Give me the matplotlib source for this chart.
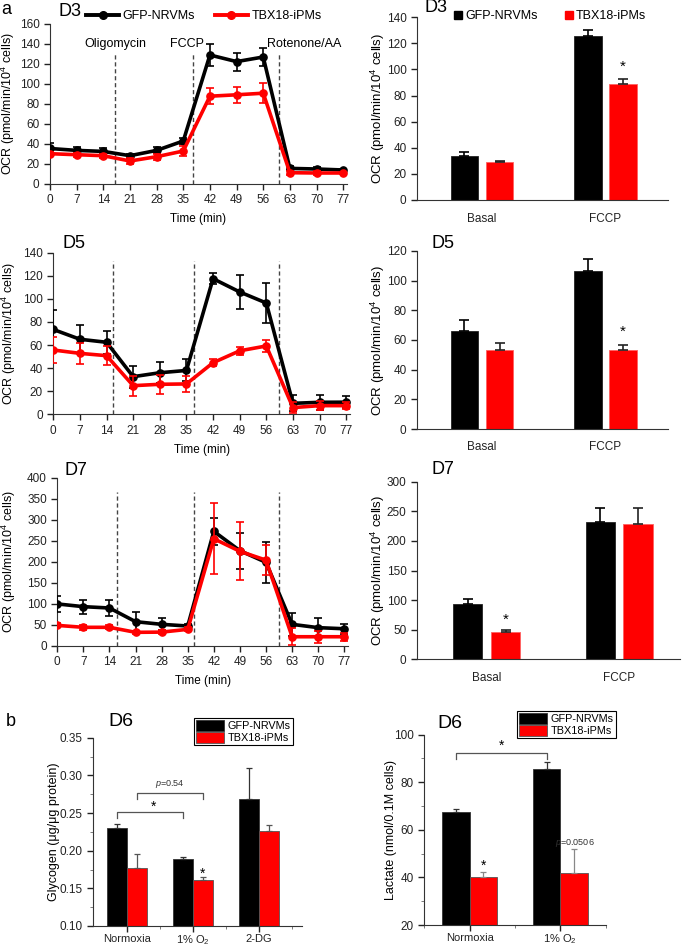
import matplotlib
matplotlib.use("Agg")
import matplotlib.pyplot as plt
from matplotlib.lines import Line2D
import numpy as np

plt.rcParams['font.family'] = ['Liberation Sans', 'DejaVu Sans']
plt.rcParams['mathtext.fontset'] = 'custom'
plt.rcParams['mathtext.rm'] = 'Liberation Sans'
plt.rcParams['mathtext.it'] = 'Liberation Sans:italic'

W, H = 685, 948

# ---------------- data ----------------
time = [0, 7, 14, 21, 28, 35, 42, 49, 56, 63, 70, 77]

d3_gfp = [35.5, 33.6, 32.6, 28.3, 33.6, 43, 129, 122.4, 127, 15.6, 15, 14]
d3_gfp_err = [5, 3, 3, 2, 3, 3, 11, 9, 9, 2, 2, 1]
d3_tbx = [30.3, 29.3, 28.3, 23, 27.3, 33, 87.8, 89.2, 90.8, 11.3, 11, 11]
d3_tbx_err = [2, 2, 2, 3, 3, 4.6, 8, 8, 10, 2, 2, 1]

d5_gfp = [73.5, 65, 62.4, 32.6, 36, 38, 117.5, 106, 96.4, 9.5, 10.4, 10.5]
d5_gfp_err = [17, 12, 10, 9.5, 9, 9.5, 5, 15, 17.5, 7, 6.5, 5]
d5_tbx = [55.7, 52.8, 50.8, 24.8, 26, 26.3, 44.7, 55, 59.2, 5.8, 7.5, 7.5]
d5_tbx_err = [11, 9, 8.5, 8.7, 8, 7, 3, 3.5, 5, 5, 4, 3]

d7_gfp = [100, 93.5, 90.3, 57.8, 51.5, 47.5, 272.5, 226.5, 198.8, 51.5, 43.6, 41]
d7_gfp_err = [20, 17, 18, 22, 14, 5, 32, 43, 48, 28, 22, 12]
d7_tbx = [49, 44.4, 44.4, 32.5, 33, 39.6, 255, 225, 204, 22, 22, 22]
d7_tbx_err = [5, 6, 5, 3, 4, 5, 84, 69, 36, 20, 14, 10]

bar_groups = ['Basal', 'FCCP']
d3_bar_gfp = [34, 126]
d3_bar_gfp_err = [2.5, 4.5]
d3_bar_tbx = [29, 89]
d3_bar_tbx_err = [0.7, 4]

d5_bar_gfp = [66.3, 106.7]
d5_bar_gfp_err = [7.2, 7.7]
d5_bar_tbx = [53.3, 53]
d5_bar_tbx_err = [4.9, 3.6]

d7_bar_gfp = [92.9, 231.3]
d7_bar_gfp_err = [9, 24]
d7_bar_tbx = [45.6, 228]
d7_bar_tbx_err = [4, 28]

gly_groups = ['Normoxia', '1% O$_2$', '2-DG']
gly_gfp = [0.230, 0.189, 0.269]
gly_gfp_err = [0.006, 0.002, 0.041]
gly_tbx = [0.177, 0.161, 0.226]
gly_tbx_err = [0.018, 0.004, 0.008]

lac_groups = ['Normoxia', '1% O$_2$']
lac_gfp = [67.4, 85.5]
lac_gfp_err = [1.5, 3.2]
lac_tbx = [40.2, 41.9]
lac_tbx_err = [2.1, 10]

injections_d3 = [17.2, 37.6, 60.2]
injections_d5 = [15.7, 37.0, 59.3]
injections_d7 = [15.9, 36.7, 59.5]
injection_names = ['Oligomycin', 'FCCP', 'Rotenone/AA']
injection_label_x = [17.3, 36.0, 66.7]

RED = '#ff0000'
OCR_LABEL = 'OCR (pmol/min/10$^4$ cells)'

fig = plt.figure(figsize=(6.85, 9.48), dpi=100)


def add_ax(l, t, r, b):
    return fig.add_axes([l / W, 1 - b / H, (r - l) / W, (b - t) / H])


def fx(x):
    return x / W


def fy(y):
    return 1 - y / H


def style_common(ax):
    for s in ['top', 'right']:
        ax.spines[s].set_visible(False)
    ax.spines['left'].set_color('#333333')
    ax.spines['bottom'].set_color('#333333')
    ax.tick_params(direction='out', length=4, width=1, labelsize=8.5, colors='#222222')


def line_panel(box, gfp, gfp_err, tbx, tbx_err, ymax, ystep, inj, inj_top, title, title_px, ylab_x):
    ax = add_ax(*box)
    style_common(ax)
    ax.errorbar(time, gfp, yerr=gfp_err, color='black', lw=2.6, marker='o', ms=5.2,
                capsize=3, elinewidth=1.2, capthick=1.2, zorder=3)
    ax.errorbar(time, tbx, yerr=tbx_err, color=RED, lw=2.6, marker='o', ms=5.2,
                capsize=3, elinewidth=1.2, capthick=1.2, zorder=4)
    for x in inj:
        ax.plot([x, x], [0, inj_top], ls=(0, (3, 2)), color='#444444', lw=1, zorder=1)
    ax.set_xlim(0, 78)
    ax.set_ylim(0, ymax)
    ax.set_xticks(time)
    ax.set_yticks(np.arange(0, ymax + 1, ystep))
    ax.set_xlabel('Time (min)', fontsize=8.5, labelpad=5)
    ax.set_ylabel(OCR_LABEL, fontsize=9)
    l = box[0]
    ax.yaxis.set_label_coords((ylab_x - l) / (box[2] - l), 0.5)
    fig.text(fx(title_px[0]), fy(title_px[1]), title, fontsize=13, ha='left', va='center')
    return ax


def bar_panel(box, xlim, width, offset, gfp, gfp_err, tbx, tbx_err, ymax, ystep, star_y, star_x_idx,
              title, title_px, lab_pad):
    ax = add_ax(*box)
    style_common(ax)
    x = np.arange(len(bar_groups))
    ax.bar(x - offset, gfp, width, color='black', edgecolor='#222222', lw=0.6,
           yerr=[np.zeros(len(gfp)), gfp_err], capsize=3.5,
           error_kw=dict(ecolor='black', elinewidth=1.2, capthick=1.2))
    ax.bar(x + offset, tbx, width, color=RED, edgecolor='#ff6060', lw=0.6,
           yerr=[np.zeros(len(tbx)), tbx_err], capsize=3.5,
           error_kw=dict(ecolor='#222222', elinewidth=1.2, capthick=1.2))
    ax.text(star_x_idx + offset, star_y, '*', ha='center', va='center', fontsize=11)
    ax.set_xlim(*xlim)
    ax.set_ylim(0, ymax)
    ax.set_yticks(np.arange(0, ymax + 1, ystep))
    ax.set_xticks(x)
    ax.set_xticklabels(bar_groups, fontsize=8.5)
    ax.tick_params(axis='x', length=0, pad=lab_pad)
    ax.set_ylabel(OCR_LABEL, fontsize=9.5)
    ax.yaxis.set_label_coords((387 - box[0]) / (box[2] - box[0]), 0.5)
    fig.text(fx(title_px[0]), fy(title_px[1]), title, fontsize=13, ha='left', va='center')
    return ax


# ---------------- row 1 : D3 ----------------
ax1 = line_panel((50, 24, 347, 184), d3_gfp, d3_gfp_err, d3_tbx, d3_tbx_err, 160, 20,
                 injections_d3, 130, 'D3', (59, 11), 17.5)
for xi, nm in zip(injection_label_x, injection_names):
    ax1.text(xi, 140, nm, ha='center', va='center', fontsize=9)
leg_handles = [Line2D([], [], color='black', lw=2.8, marker='o', ms=5.5),
               Line2D([], [], color=RED, lw=2.8, marker='o', ms=5.5)]
fig.legend(leg_handles, ['GFP-NRVMs', 'TBX18-iPMs'], ncol=2, frameon=False,
           loc='center', bbox_to_anchor=(fx(204), fy(16)), fontsize=9,
           handlelength=2.6, columnspacing=1.6, handletextpad=0.3)
fig.text(fx(1), fy(10), 'a', fontsize=13, ha='left', va='center')

b1 = bar_panel((417, 17.3, 668, 200), (-0.526, 1.506), 0.223, 0.142,
               d3_bar_gfp, d3_bar_gfp_err, d3_bar_tbx, d3_bar_tbx_err, 140, 20, 102, 1,
               'D3', (425, 8), 9)
sq = [Line2D([], [], color='black', marker='s', ls='', ms=6),
      Line2D([], [], color=RED, marker='s', ls='', ms=6)]
fig.legend(sq, ['GFP-NRVMs', 'TBX18-iPMs'], ncol=2, frameon=False, loc='center',
           bbox_to_anchor=(fx(550), fy(16)), fontsize=9, handlelength=0.7,
           handletextpad=0.2, columnspacing=2.2)

# ---------------- row 2 : D5 ----------------
line_panel((53.3, 252.7, 350, 414.3), d5_gfp, d5_gfp_err, d5_tbx, d5_tbx_err, 140, 20,
           injections_d5, 133, 'D5', (62, 243), 17.5)
bar_panel((417, 251, 668, 429), (-0.526, 1.506), 0.223, 0.142,
          d5_bar_gfp, d5_bar_gfp_err, d5_bar_tbx, d5_bar_tbx_err, 120, 20, 65.6, 1,
          'D5', (431, 243), 9)

# ---------------- row 3 : D7 ----------------
line_panel((57.3, 477.7, 348, 646), d7_gfp, d7_gfp_err, d7_tbx, d7_tbx_err, 400, 50,
           injections_d7, 367, 'D7', (65, 470), 17.5)
bar_panel((417, 481.7, 680, 659.3), (-0.525, 1.46), 0.219, 0.143,
          d7_bar_gfp, d7_bar_gfp_err, d7_bar_tbx, d7_bar_tbx_err, 300, 50, 67.5, 0,
          'D7', (431, 469), 9)

# ---------------- panel b : glycogen ----------------
fig.text(fx(6), fy(722), 'b', fontsize=13, ha='left', va='center')
GL, GR = 93, 302
axg = add_ax(GL, 737.7, GR, 926)
style_common(axg)
xg = np.arange(len(gly_groups))
bw = 0.30
bg1 = axg.bar(xg - bw / 2, gly_gfp, bw, color='black', edgecolor='#333333', lw=0.6,
              yerr=[np.zeros(3), gly_gfp_err], capsize=2.5,
              error_kw=dict(ecolor='#333333', elinewidth=0.9, capthick=0.9))
bg2 = axg.bar(xg + bw / 2, gly_tbx, bw, color=RED, edgecolor='#555555', lw=0.6,
              yerr=[np.zeros(3), gly_tbx_err], capsize=2.5,
              error_kw=dict(ecolor='#555555', elinewidth=0.9, capthick=0.9))
axg.set_xlim(-0.515, 2.65)
axg.set_ylim(0.10, 0.35)
axg.set_yticks(np.arange(0.10, 0.351, 0.05))
axg.set_yticklabels([f'{v:.2f}' for v in np.arange(0.10, 0.351, 0.05)])
axg.set_yticks(np.arange(0.125, 0.35, 0.05), minor=True)
axg.set_xticks([0.5, 1.5, 2.5], minor=True)
axg.tick_params(which='minor', length=2.5, color='#666666')
axg.set_xticks(xg)
axg.set_xticklabels(gly_groups, fontsize=8)
axg.tick_params(axis='x', pad=1.5)
axg.tick_params(axis='y', labelsize=8.5)
axg.set_ylabel('Glycogen (μg/μg protein)', fontsize=9)
axg.yaxis.set_label_coords((60 - GL) / (GR - GL), 0.5)


def bracket(ax, x0, x1, y, drop, color='#555555'):
    ax.plot([x0, x0, x1, x1], [y - drop, y, y, y - drop], color=color, lw=0.9)


bracket(axg, -0.15, 0.85, 0.2516, 0.008)
axg.text(0.40, 0.258, '*', ha='center', va='center', fontsize=10)
bracket(axg, 0.15, 1.15, 0.2766, 0.008)
axg.text(0.65, 0.2885, '$p$=0.54', ha='center', va='center', fontsize=6.5, color='#333333')
axg.text(1.15, 0.1695, '*', ha='center', va='center', fontsize=10)
axg.legend([bg1, bg2], ['GFP-NRVMs', 'TBX18-iPMs'], loc='upper left',
           bbox_to_anchor=((194 - GL) / (GR - GL), (926 - 718) / (926 - 737.7)),
           fontsize=7.8, frameon=True, fancybox=False, edgecolor='black', framealpha=1,
           handlelength=2.6, handleheight=1.2, labelspacing=0.05, borderpad=0.2,
           handletextpad=0.3, borderaxespad=0)
axg.get_legend().get_frame().set_linewidth(0.8)
fig.text(fx(108), fy(722), 'D6', fontsize=14, ha='left', va='center')

# ---------------- panel b : lactate ----------------
axl = add_ax(424.3, 734.7, 605.7, 925)
style_common(axl)
xl = np.arange(len(lac_groups))
bl1 = axl.bar(xl - bw / 2, lac_gfp, bw, color='black', edgecolor='#333333', lw=0.6,
              yerr=[np.zeros(2), lac_gfp_err], capsize=2.5,
              error_kw=dict(ecolor='#333333', elinewidth=0.9, capthick=0.9))
bl2 = axl.bar(xl + bw / 2, lac_tbx, bw, color=RED, edgecolor='#555555', lw=0.6,
              yerr=[np.zeros(2), lac_tbx_err], capsize=2.5,
              error_kw=dict(ecolor='#888888', elinewidth=0.9, capthick=0.9))
axl.set_xlim(-0.5, 1.5)
axl.set_ylim(20, 100)
axl.set_yticks([20, 40, 60, 80, 100])
axl.set_yticks([30, 50, 70, 90], minor=True)
axl.set_xticks([-0.5, 0.5, 1.5], minor=True)
axl.tick_params(which='minor', length=2.5, color='#666666')
axl.set_xticks(xl)
axl.set_xticklabels(lac_groups, fontsize=8)
axl.tick_params(axis='x', pad=1.5)
axl.tick_params(axis='y', labelsize=8.5)
axl.set_ylabel('Lactate (nmol/0.1M cells)', fontsize=9)
axl.yaxis.set_label_coords((397 - 424.3) / (605.7 - 424.3), 0.5)
bracket(axl, -0.15, 0.85, 92.4, 2.6)
axl.text(0.35, 95.2, '*', ha='center', va='center', fontsize=10)
axl.text(0.15, 45, '*', ha='center', va='center', fontsize=10)
axl.text(1.16, 54.6, '$p$=0.0506', ha='center', va='center', fontsize=6.5, color='#333333')
axl.legend([bl1, bl2], ['GFP-NRVMs', 'TBX18-iPMs'], loc='upper left',
           bbox_to_anchor=((517 - 424.3) / (605.7 - 424.3), (925 - 711) / (925 - 734.7)),
           fontsize=7.8, frameon=True, fancybox=False, edgecolor='black', framealpha=1,
           handlelength=2.6, handleheight=1.2, labelspacing=0.05, borderpad=0.2,
           handletextpad=0.3, borderaxespad=0)
axl.get_legend().get_frame().set_linewidth(0.8)
fig.text(fx(437), fy(724), 'D6', fontsize=14, ha='left', va='center')

fig.savefig('out.png', dpi=100)
